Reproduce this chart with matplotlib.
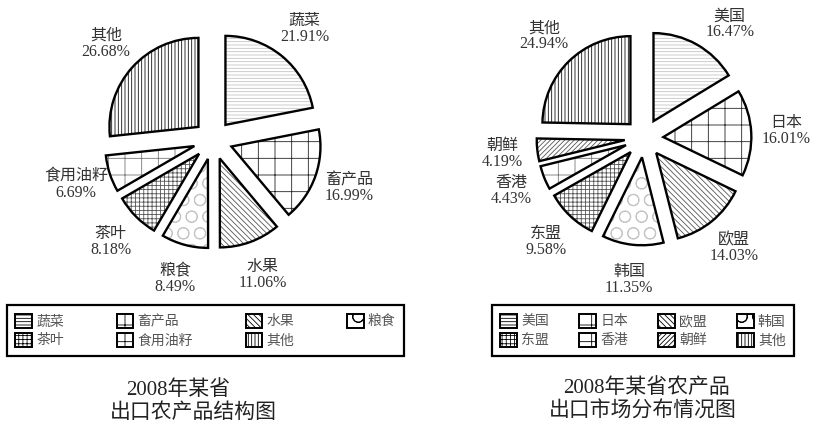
import matplotlib.pyplot as plt
from matplotlib.patches import Patch

plt.rcParams["font.family"] = ["Liberation Serif", "Noto Sans CJK SC"]
plt.rcParams["hatch.linewidth"] = 0.6

# ---- Data ----
PRODUCT_NAMES = ["蔬菜", "畜产品", "水果", "粮食", "茶叶", "食用油籽", "其他"]
PRODUCT_SHARES = [21.91, 16.99, 11.06, 8.49, 8.18, 6.69, 26.68]
MARKET_NAMES = ["美国", "日本", "欧盟", "韩国", "东盟", "香港", "朝鲜", "其他"]
MARKET_SHARES = [16.47, 16.01, 14.03, 11.35, 9.58, 4.43, 4.19, 24.94]
TITLE_LEFT = ["2008年某省", "出口农产品结构图"]
TITLE_RIGHT = ["2008年某省农产品", "出口市场分布情况图"]

# ---- Styles (hatch pattern, hatch colour) ----
PRODUCT_STYLE = [
    ("-----", "#c4c4c4"),
    ("+", "#222222"),
    ("\\\\\\\\\\\\", "#555555"),
    ("O", "#c4c4c4"),
    ("++++", "#555555"),
    ("+", "#777777"),
    ("|||||", "#111111"),
]
MARKET_STYLE = [
    ("-----", "#c4c4c4"),
    ("+", "#222222"),
    ("\\\\\\\\\\\\", "#555555"),
    ("O", "#c4c4c4"),
    ("++++", "#555555"),
    ("+", "#777777"),
    ("///////", "#555555"),
    ("|||||", "#111111"),
]

# small label shifts (data units) where the reference moves a label off its wedge axis
MARKET_NUDGE = {"美国": (0.18, -0.12)}

W, H = 814, 428
TEXT_COLOR = "#333333"


def pie_axes(fig, cx, cy, r_px, half=1.7):
    size = 2 * half * r_px
    ax = fig.add_axes([(cx - half * r_px) / W, (H - cy - half * r_px) / H, size / W, size / H])
    return ax, half


def draw_pie(ax, half, names, shares, styles, nudge=None):
    explode = [0.22] * len(shares)
    labels = [f"{n}\n{v:.2f}%" for n, v in zip(names, shares)]
    wedges, texts = ax.pie(
        shares,
        explode=explode,
        labels=labels,
        startangle=90,
        counterclock=False,
        labeldistance=1.4,
        textprops=dict(ha="center", va="center", fontsize=11.5, color=TEXT_COLOR, linespacing=1.0),
        wedgeprops=dict(facecolor="white", linewidth=0),
    )
    for w, (hatch, col) in zip(wedges, styles):
        w.set_edgecolor(col)
        w.set_hatch(hatch)
    if nudge:
        for name, t in zip(names, texts):
            if name in nudge:
                x, y = t.get_position()
                t.set_position((x + nudge[name][0], y + nudge[name][1]))
    # outlines on top
    ax.pie(
        shares,
        explode=explode,
        startangle=90,
        counterclock=False,
        wedgeprops=dict(facecolor="none", edgecolor="black", linewidth=1.7),
    )
    ax.set_xlim(-half, half)
    ax.set_ylim(-half, half)
    ax.axis("off")


def draw_legend(fig, names, styles, box):
    handles = [Patch(facecolor="white", edgecolor="black", linewidth=1.4, hatch=h) for h, _ in styles]
    n = len(names)
    order = []
    for i in range(4):
        order += [j for j in (i, i + 4) if j < n]
    leg = fig.legend(
        [handles[i] for i in order],
        [names[i] for i in order],
        ncol=4,
        mode="expand",
        loc="center",
        bbox_to_anchor=(box[0] / W, 1 - (box[1] + box[3]) / H, box[2] / W, box[3] / H),
        frameon=True,
        fancybox=False,
        edgecolor="black",
        framealpha=1,
        fontsize=10,
        handlelength=1.2,
        handleheight=1.2,
        handletextpad=0.3,
        labelspacing=0.3,
        borderpad=0.6,
        borderaxespad=0,
    )
    leg.get_frame().set_linewidth(1.6)
    for t in leg.get_texts():
        t.set_color("#555555")


def main():
    fig = plt.figure(figsize=(W / 100, H / 100), dpi=100)

    ax1, half1 = pie_axes(fig, 213, 140, 89)
    draw_pie(ax1, half1, PRODUCT_NAMES, PRODUCT_SHARES, PRODUCT_STYLE)
    ax2, half2 = pie_axes(fig, 644, 138, 88)
    draw_pie(ax2, half2, MARKET_NAMES, MARKET_SHARES, MARKET_STYLE, MARKET_NUDGE)

    draw_legend(fig, PRODUCT_NAMES, PRODUCT_STYLE, (7, 302, 397, 57))
    draw_legend(fig, MARKET_NAMES, MARKET_STYLE, (492, 302, 302, 57))

    # titles
    fig.text(178 / W, 1 - 390 / H, TITLE_LEFT[0], ha="center", va="center", fontsize=15, color="#222222")
    fig.text(193 / W, 1 - 413 / H, TITLE_LEFT[1], ha="center", va="center", fontsize=15, color="#222222")
    fig.text(646 / W, 1 - 388 / H, TITLE_RIGHT[0], ha="center", va="center", fontsize=15, color="#222222")
    fig.text(643 / W, 1 - 412 / H, TITLE_RIGHT[1], ha="center", va="center", fontsize=15, color="#222222")

    fig.savefig("out.png", dpi=100)


if __name__ == "__main__":
    main()
